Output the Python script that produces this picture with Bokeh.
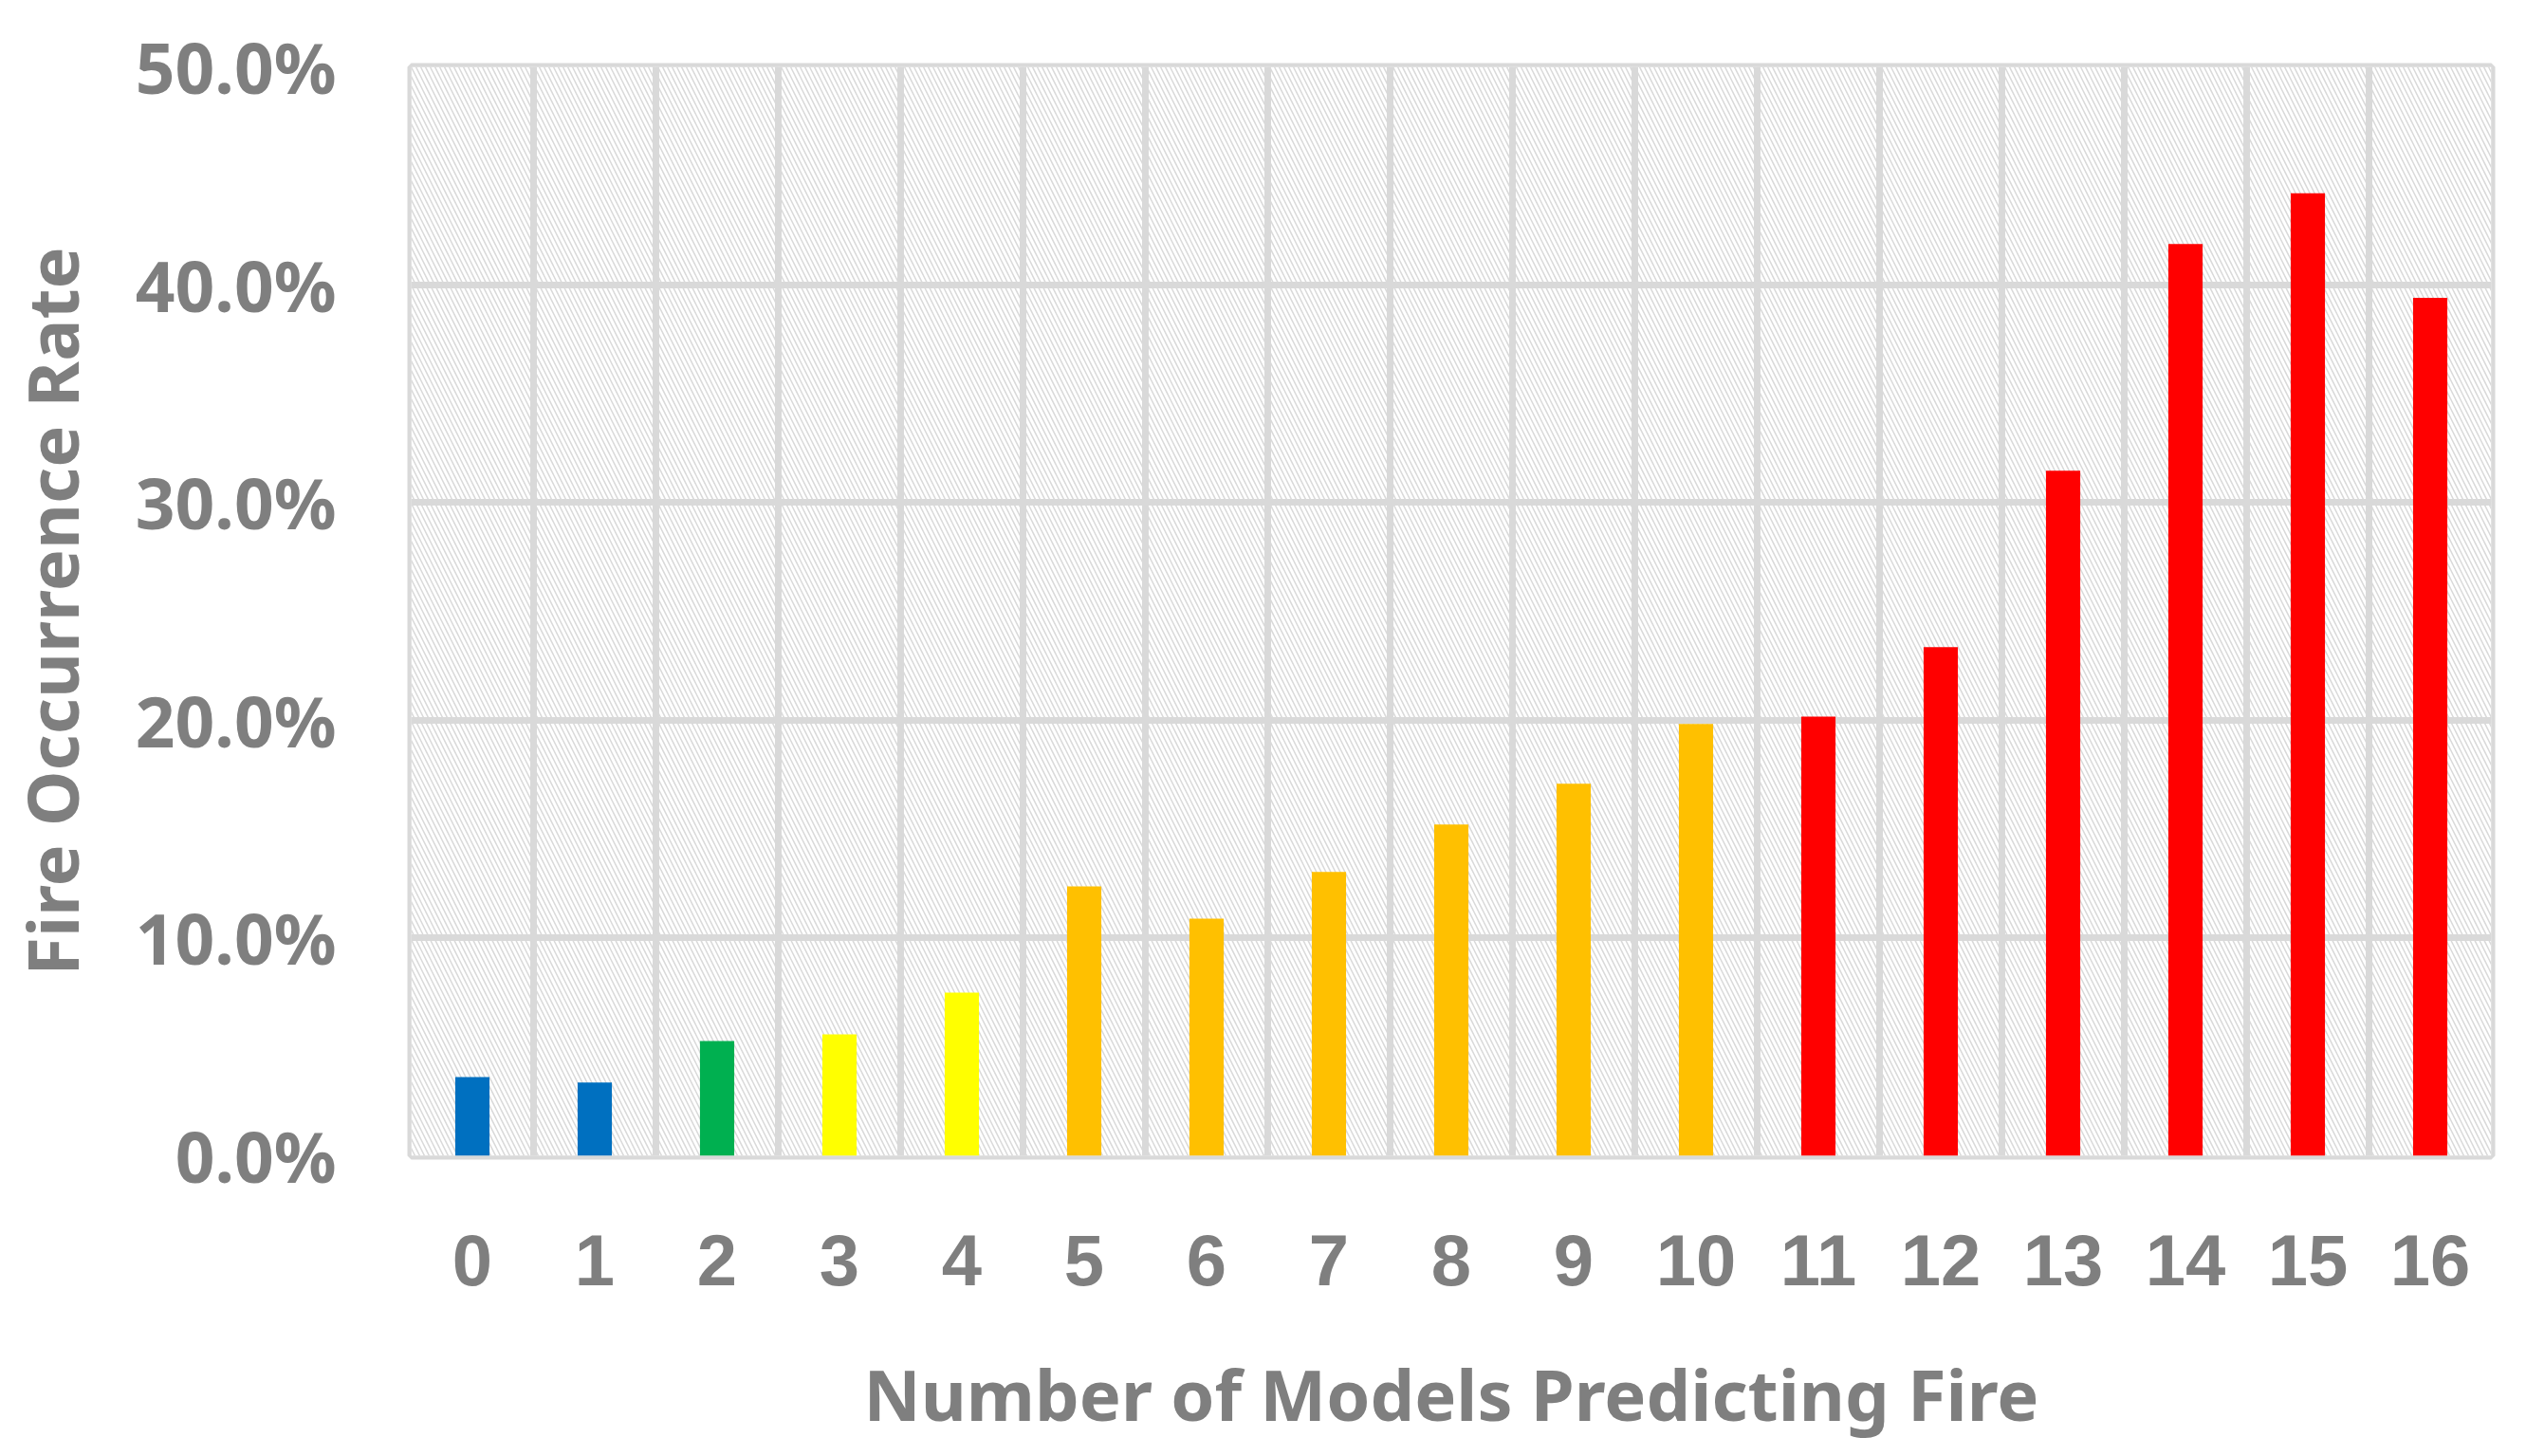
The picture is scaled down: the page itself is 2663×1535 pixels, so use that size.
from bokeh.plotting import figure
from bokeh.models import Range1d, FixedTicker, NumeralTickFormatter, ColumnDataSource
from bokeh.embed import file_html
from bokeh.resources import INLINE

# ---- data ----
categories = list(range(17))
tick_labels = [str(c) for c in categories]
rates = [0.0362, 0.0336, 0.0527, 0.0558, 0.0749, 0.1237, 0.1089, 0.1303, 0.1521,
         0.1708, 0.1983, 0.2017, 0.2336, 0.3146, 0.4187, 0.4420, 0.3939]
bar_colors = ["#0070C0", "#0070C0", "#00B050", "#FFFF00", "#FFFF00",
              "#FFC000", "#FFC000", "#FFC000", "#FFC000", "#FFC000", "#FFC000",
              "#FF0000", "#FF0000", "#FF0000", "#FF0000", "#FF0000", "#FF0000"]
y_ticks = [0.0, 0.1, 0.2, 0.3, 0.4, 0.5]

GRAY = "#7f7f7f"
GRID = "#d9d9d9"

x_min, x_max = categories[0] - 0.5, categories[-1] + 0.5
y_min, y_max = y_ticks[0], y_ticks[-1]

p = figure(frame_width=2193, frame_height=1148, output_backend="svg", toolbar_location=None,
           x_range=Range1d(x_min, x_max), y_range=Range1d(y_min, y_max),
           min_border_left=430, min_border_right=28, min_border_top=70, min_border_bottom=280)

p.background_fill_color = "white"
p.border_fill_color = "white"
p.outline_line_color = GRID
p.outline_line_width = 8

# hatched plot-area background
p.quad(left=[x_min], right=[x_max], bottom=[y_min], top=[y_max],
       fill_color="white", line_color=None,
       hatch_pattern="\\", hatch_color=GRID, hatch_scale=10, hatch_weight=1.5,
       level="image")

src = ColumnDataSource(dict(x=categories, top=rates, color=bar_colors))
p.vbar(x="x", top="top", bottom=0, width=0.28, fill_color="color", line_color=None, source=src)

# axes
p.xaxis.ticker = FixedTicker(ticks=categories)
p.xaxis.major_label_overrides = {c: l for c, l in zip(categories, tick_labels)}
p.yaxis.ticker = FixedTicker(ticks=y_ticks)
p.yaxis.formatter = NumeralTickFormatter(format="0.0%")

for ax in (p.xaxis[0], p.yaxis[0]):
    ax.axis_line_color = None
    ax.major_tick_line_color = None
    ax.minor_tick_line_color = None
    ax.major_label_text_color = GRAY
    ax.axis_label_text_color = GRAY
    ax.axis_label_text_font = "Noto Sans"
    ax.axis_label_text_font_style = "bold"
    ax.axis_label_text_font_size = "74px"

p.xaxis.major_label_text_font = "Liberation Sans"
p.xaxis.major_label_text_font_style = "bold"
p.xaxis.major_label_text_font_size = "76px"
p.xaxis.major_label_standoff = 77
p.xaxis.axis_label = "Number of Models Predicting Fire"
p.xaxis.axis_label_standoff = 61

p.yaxis.major_label_text_font = "Noto Sans"
p.yaxis.major_label_text_font_style = "bold"
p.yaxis.major_label_text_font_size = "73px"
p.yaxis.major_label_standoff = 73
p.yaxis.axis_label = "Fire Occurrence Rate"
p.yaxis.axis_label_standoff = 35

# grids
p.xgrid.ticker = FixedTicker(ticks=[c - 0.5 for c in categories] + [x_max])
p.xgrid.grid_line_color = GRID
p.xgrid.grid_line_width = 7
p.ygrid.ticker = FixedTicker(ticks=y_ticks)
p.ygrid.grid_line_color = GRID
p.ygrid.grid_line_width = 7

open("out.html", "w").write(file_html(p, INLINE))
